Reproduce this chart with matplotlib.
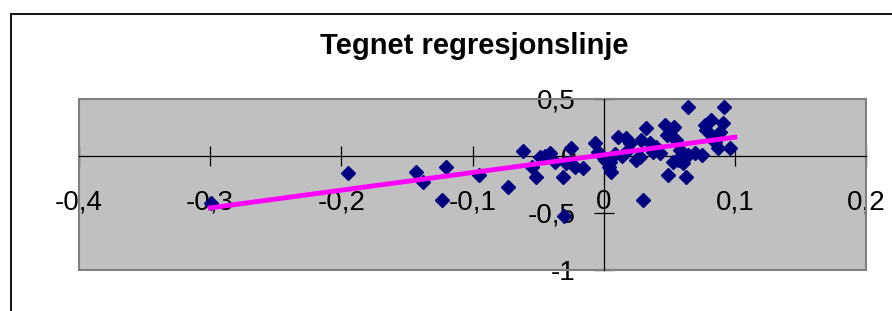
import matplotlib
matplotlib.use("Agg")
import matplotlib.pyplot as plt
from matplotlib.patches import Rectangle

plt.rcParams['font.family'] = ['Liberation Sans', 'DejaVu Sans']

x_obs = [-0.299, -0.195, -0.143, -0.138, -0.123, -0.120, -0.095, -0.0616, -0.073,
         -0.0514, -0.055, -0.0489, -0.041, -0.037, -0.031, -0.025, -0.0285, -0.022,
         -0.0158, -0.030, -0.0069, -0.0043, 0.001, 0.0046, 0.0059, 0.011, 0.0173,
         0.0186, 0.025, 0.0275, 0.0326, 0.0288, 0.0351, 0.0376, 0.0427, 0.030,
         0.0466, 0.048, 0.053, 0.055, 0.053, 0.049, 0.0644, 0.0916, 0.054, 0.077,
         0.082, 0.091, 0.078, 0.083, 0.0885, 0.058, 0.057, 0.0605, 0.0644, 0.0746,
         0.087, 0.096, 0.063, 0.009, 0.014, 0.040, 0.060, 0.070, 0.085, 0.020,
         -0.045, 0.004]
y_obs = [-0.41, -0.15, -0.14, -0.23, -0.39, -0.10, -0.17, 0.046, -0.27,
         -0.187, -0.094, -0.012, 0.023, -0.05, -0.187, 0.067, -0.064, -0.094,
         -0.108, -0.526, 0.111, 0.038, -0.035, -0.05, -0.137, 0.17, 0.155,
         0.053, -0.035, -0.006, 0.243, 0.14, 0.111, 0.038, 0.023, -0.39,
         0.27, 0.184, 0.243, 0.14, -0.05, -0.167, 0.427, 0.427, 0.257, 0.27,
         0.316, 0.286, 0.228, 0.17, 0.213, 0.053, -0.035, -0.064, 0.009, 0.009,
         0.067, 0.067, -0.18, 0.02, 0.0, 0.08, 0.01, 0.03, 0.12, 0.11,
         0.0, -0.10]

# drawn regression line
line_x = [-0.3, 0.1]
line_y = [-0.455, 0.165]

x_ticks = [-0.4, -0.3, -0.2, -0.1, 0, 0.1, 0.2]
x_labels = ['-0,4', '-0,3', '-0,2', '-0,1', '0', '0,1', '0,2']
y_ticks = [-1, -0.5, 0, 0.5]
y_labels = ['-1', '-0,5', '0', '0,5']

fig = plt.figure(figsize=(8.92, 3.11), dpi=100)
fig.patches.append(Rectangle((11/892, -0.1), 1.2, 1.1 - 14/311, transform=fig.transFigure,
                             fill=False, edgecolor='black', linewidth=1.3))
fig.text(0.532, 0.853, 'Tegnet regresjonslinje', ha='center', va='center',
         fontsize=21, fontweight='bold')

ax = fig.add_axes([79/892, 1 - 270/311, 787/892, 171/311])
ax.set_facecolor('#c0c0c0')
ax.add_patch(Rectangle((0, 0), 1, 1, transform=ax.transAxes, fill=False,
                       edgecolor='#808080', linewidth=1.5, zorder=1, clip_on=False))
ax.set_xlim(-0.4, 0.2)
ax.set_ylim(-1, 0.5)

ax.plot(x_obs, y_obs, linestyle='none', marker='D', markersize=7.5,
        color='#000080', zorder=3)
ax.plot(line_x, line_y, color='#ff00ff', linewidth=3.5, zorder=4)

for s in ['top', 'right']:
    ax.spines[s].set_visible(False)
ax.spines['left'].set_position(('data', 0))
ax.spines['bottom'].set_position(('data', 0))
for s in ['left', 'bottom']:
    ax.spines[s].set_linewidth(0.9)
    ax.spines[s].set_zorder(2)

ax.set_axisbelow(True)
ax.set_xticks(x_ticks)
ax.set_xticklabels(x_labels)
ax.set_yticks(y_ticks)
ax.set_yticklabels(y_labels)
ax.tick_params(axis='x', direction='inout', length=14, width=0.9, labelsize=20, pad=17)
ax.tick_params(axis='y', direction='inout', length=14, width=0.9, labelsize=20, pad=13)

fig.savefig('out.png', dpi=100)
